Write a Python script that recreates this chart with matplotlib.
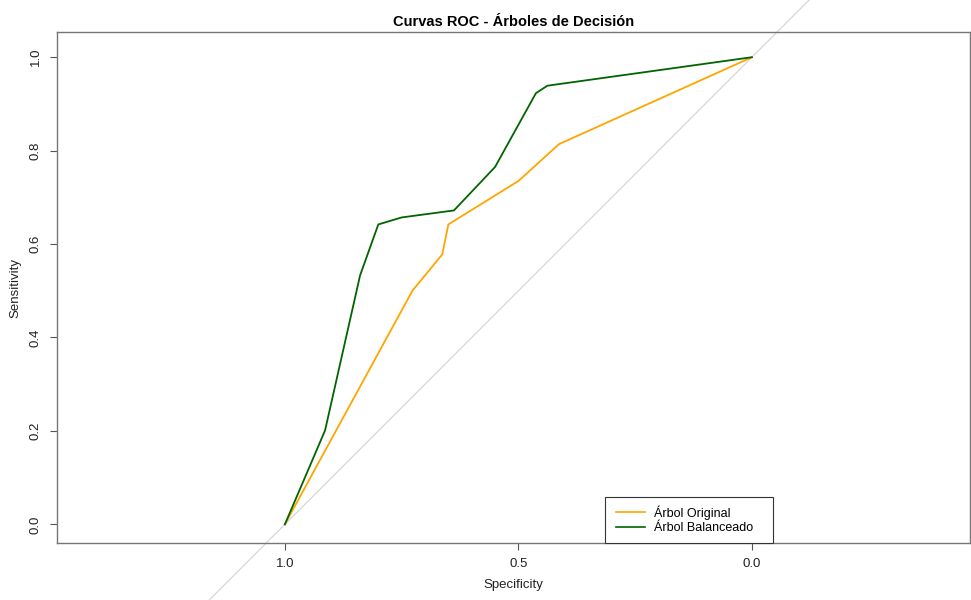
import matplotlib.pyplot as plt
from matplotlib.patches import Rectangle

plt.rcParams['font.family'] = ['Liberation Sans', 'DejaVu Sans']

# ROC curves (specificity, sensitivity)
spec_original = [1.0, 0.727, 0.663, 0.650, 0.500, 0.413, 0.0]
sens_original = [0.0, 0.500, 0.578, 0.642, 0.735, 0.814, 1.0]

spec_balanceado = [1.0, 0.914, 0.839, 0.800, 0.750, 0.638, 0.550, 0.4625, 0.438, 0.0]
sens_balanceado = [0.0, 0.201, 0.533, 0.642, 0.657, 0.672, 0.765, 0.923, 0.939, 1.0]

labels = ['Árbol Original', 'Árbol Balanceado']
colors = ['orange', 'darkgreen']

x_ticks = [1.0, 0.5, 0.0]
y_ticks = [0.0, 0.2, 0.4, 0.6, 0.8, 1.0]

W, H = 971, 600
fig = plt.figure(figsize=(W / 100, H / 100), dpi=100)
ax = fig.add_axes([57 / W, 57 / H, 913 / W, 511 / H])

# diagonal reference line, runs past the plot box like R's abline
diag = [-0.2, 1.2]
ax.plot(diag, [1 - d for d in diag], color='#d3d3d3', lw=0.8, clip_on=False, zorder=1)

ax.plot(spec_original, sens_original, color=colors[0], lw=1.3, label=labels[0], zorder=3)
ax.plot(spec_balanceado, sens_balanceado, color=colors[1], lw=1.3, label=labels[1], zorder=3)

ax.set_xlim(1.488, -0.467)
ax.set_ylim(-0.04, 1.054)

ax.set_xticks(x_ticks)
ax.set_xticklabels(['1.0', '0.5', '0.0'])
ax.set_yticks(y_ticks)
ax.set_yticklabels(['%.1f' % v for v in y_ticks], rotation=90, va='center')
ax.tick_params(length=5, width=0.8, color='#555555', labelsize=9.5, pad=6,
               labelcolor='#222222')

for s in ax.spines.values():
    s.set_color('#777777')
    s.set_linewidth(1.0)

ax.set_xlabel('Specificity', fontsize=9.5, labelpad=6, color='#222222')
ax.set_ylabel('Sensitivity', fontsize=9.5, labelpad=6, color='#222222')
ax.set_title('Curvas ROC - Árboles de Decisión', fontsize=10.5, fontweight='bold', pad=4)

# legend box drawn like R's legend(): frame separate from the entries
box = Rectangle((605 / W, (H - 543) / H), 168 / W, 46 / H,
                transform=fig.transFigure, facecolor='white',
                edgecolor='#333333', lw=0.8, zorder=4, clip_on=False)
ax.add_patch(box)
leg = ax.legend(loc='upper left', bbox_to_anchor=(616 / W, (H - 505) / H),
                bbox_transform=fig.transFigure, fontsize=9, frameon=False,
                borderaxespad=0, borderpad=0, handlelength=2.3,
                handletextpad=0.75, labelspacing=0.2)
leg.set_zorder(5)
for h in leg.get_lines():
    h.set_linewidth(1.2)

fig.savefig('out.png', dpi=100, facecolor='white')
